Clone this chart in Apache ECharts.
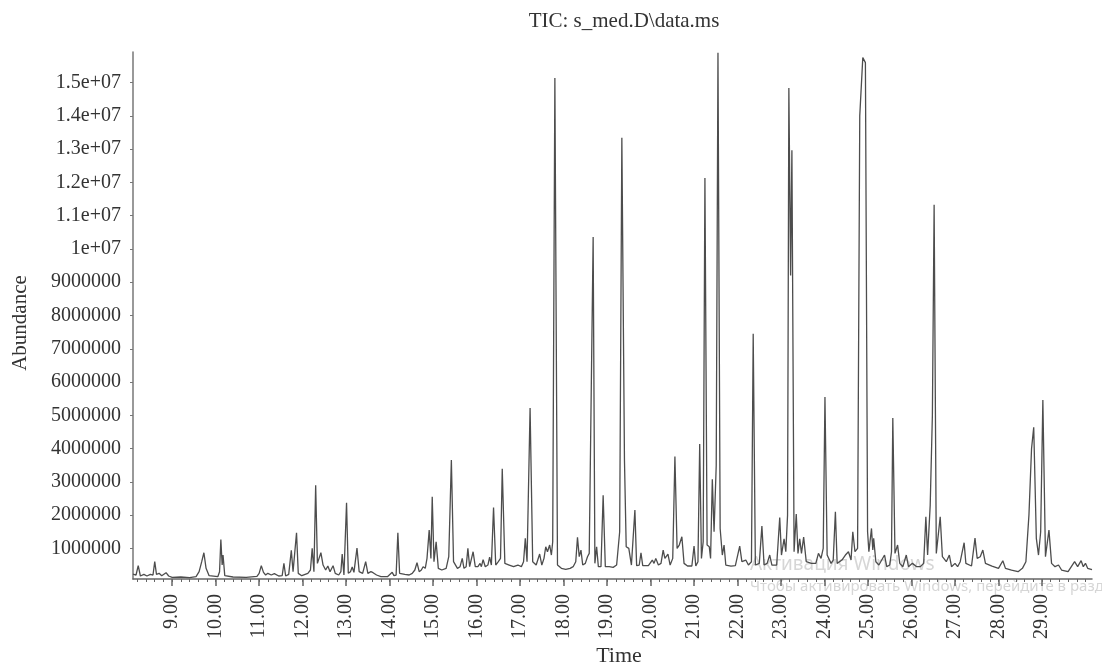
<!DOCTYPE html>
<html>
<head>
<meta charset="utf-8">
<script src="https://cdn.jsdelivr.net/npm/echarts@6/dist/echarts.min.js"></script>
<style>
  html, body { margin: 0; padding: 0; background: #fff; }
  #chart { width: 1102px; height: 666px; }
</style>
</head>
<body>
<div id="chart"></div>
<script>
// retention time (min) and abundance (millions)
const times = [
  8.10, 8.17, 8.22, 8.27, 8.35, 8.42, 8.50, 8.56, 8.60, 8.64, 8.70, 8.76, 8.86, 8.92,
  9.00, 9.20, 9.40, 9.55, 9.62, 9.68, 9.73, 9.78, 9.85,
  10.05, 10.09, 10.12, 10.15, 10.17, 10.21, 10.40, 10.70, 10.95,
  11.00, 11.05, 11.10, 11.15, 11.20, 11.28, 11.35, 11.45, 11.53, 11.57, 11.61, 11.68, 11.74, 11.78, 11.82, 11.86, 11.90, 11.98,
  12.12, 12.18, 12.22, 12.26, 12.30, 12.34, 12.38, 12.42, 12.47, 12.53, 12.58, 12.63, 12.70, 12.75, 12.83, 12.88, 12.91, 12.95,
  13.01, 13.05, 13.10, 13.14, 13.18, 13.25, 13.30, 13.38, 13.45, 13.50, 13.57, 13.62, 13.70, 13.80, 13.95,
  14.06, 14.10, 14.15, 14.19, 14.23, 14.35, 14.45, 14.52, 14.58, 14.63, 14.68, 14.73, 14.77, 14.82, 14.86, 14.91, 14.95, 14.98,
  15.02, 15.07, 15.12, 15.20, 15.30, 15.36, 15.42, 15.47, 15.56, 15.62, 15.67, 15.71, 15.76, 15.80, 15.84, 15.88, 15.92, 15.97,
  16.03, 16.08, 16.11, 16.15, 16.20, 16.26, 16.30, 16.34, 16.39, 16.44, 16.50, 16.55, 16.59, 16.65, 16.75, 16.85, 16.95,
  17.03, 17.08, 17.12, 17.16, 17.23, 17.29, 17.37, 17.45, 17.50, 17.55, 17.59, 17.63, 17.68, 17.72, 17.75, 17.80, 17.86, 17.95,
  18.05, 18.15, 18.22, 18.28, 18.32, 18.36, 18.40, 18.44, 18.50, 18.55, 18.59, 18.63, 18.68, 18.72, 18.76, 18.80, 18.86, 18.91, 18.96,
  19.05, 19.14, 19.22, 19.29, 19.34, 19.40, 19.44, 19.50, 19.56, 19.60, 19.64, 19.68, 19.74, 19.78, 19.82, 19.95,
  20.04, 20.08, 20.12, 20.18, 20.24, 20.29, 20.33, 20.40, 20.45, 20.51, 20.56, 20.61, 20.66, 20.72, 20.77, 20.85, 20.95,
  21.00, 21.04, 21.09, 21.13, 21.17, 21.21, 21.25, 21.30, 21.35, 21.38, 21.42, 21.46, 21.51, 21.55, 21.60, 21.65, 21.69, 21.73, 21.85, 21.95,
  22.05, 22.10, 22.19, 22.25, 22.32, 22.36, 22.41, 22.50, 22.56, 22.61, 22.68, 22.74, 22.79, 22.90, 22.97,
  23.01, 23.07, 23.11, 23.15, 23.18, 23.22, 23.25, 23.30, 23.35, 23.39, 23.43, 23.47, 23.52, 23.58, 23.70, 23.80, 23.86, 23.92, 23.97,
  24.01, 24.06, 24.15, 24.20, 24.25, 24.29, 24.40, 24.48, 24.55, 24.61, 24.65, 24.70, 24.76, 24.81, 24.88, 24.94, 24.99,
  25.02, 25.08, 25.11, 25.13, 25.18, 25.25, 25.38, 25.43, 25.50, 25.54, 25.57, 25.62, 25.68, 25.73, 25.80, 25.88, 25.93,
  26.02, 26.12, 26.20, 26.28, 26.33, 26.37, 26.43, 26.48, 26.52, 26.57, 26.66, 26.71, 26.80, 26.87, 26.92,
  27.00, 27.06, 27.12, 27.16, 27.21, 27.25, 27.38, 27.46, 27.51, 27.58, 27.64, 27.70, 27.85,
  28.00, 28.10, 28.16, 28.30, 28.45, 28.55, 28.63, 28.70, 28.76, 28.81, 28.87, 28.92, 28.97,
  29.02, 29.08, 29.16, 29.22, 29.30, 29.38, 29.45, 29.60, 29.75, 29.82, 29.90, 29.95,
  30.00, 30.05, 30.15
];
const abundance = [
  0.23, 0.20, 0.48, 0.17, 0.22, 0.17, 0.22, 0.20, 0.60, 0.22, 0.25, 0.18, 0.27, 0.17,
  0.13, 0.14, 0.12, 0.15, 0.30, 0.60, 0.87, 0.40, 0.18,
  0.15, 0.30, 1.27, 0.50, 0.80, 0.18, 0.14, 0.13, 0.16,
  0.25, 0.48, 0.28, 0.20, 0.25, 0.20, 0.24, 0.17, 0.18, 0.55, 0.17, 0.22, 0.94, 0.30, 0.35, 1.47, 0.25, 0.18,
  0.25, 0.35, 1.00, 0.30, 2.90, 0.55, 0.60, 0.87, 0.50, 0.35, 0.47, 0.30, 0.48, 0.25, 0.20, 0.30, 0.83, 0.20,
  2.37, 0.25, 0.30, 0.44, 0.28, 1.01, 0.30, 0.25, 0.60, 0.25, 0.30, 0.27, 0.20, 0.15, 0.15,
  0.28, 0.18, 0.20, 1.47, 0.25, 0.22, 0.20, 0.25, 0.35, 0.57, 0.30, 0.35, 0.45, 0.40, 0.70, 1.55, 0.70, 2.55,
  0.60, 1.20, 0.40, 0.35, 0.40, 0.75, 3.66, 0.60, 0.40, 0.45, 0.70, 0.40, 0.45, 1.00, 0.45, 0.45, 0.90, 0.45,
  0.45, 0.55, 0.45, 0.66, 0.45, 0.50, 0.74, 0.50, 2.23, 0.50, 0.60, 0.70, 3.39, 0.55, 0.50, 0.45, 0.50,
  0.45, 0.60, 1.30, 0.60, 5.22, 0.60, 0.50, 0.83, 0.50, 0.70, 1.05, 0.90, 1.10, 0.80, 1.20, 15.14, 0.50, 0.40,
  0.37, 0.40, 0.45, 0.60, 1.33, 0.75, 0.95, 0.50, 0.55, 0.75, 0.85, 0.80, 10.36, 0.55, 1.05, 0.45, 0.45, 2.60, 0.45,
  0.45, 0.43, 0.50, 1.50, 13.34, 3.66, 1.05, 1.00, 0.50, 0.55, 2.15, 0.48, 0.50, 0.87, 0.48, 0.48,
  0.65, 0.55, 0.70, 0.50, 0.55, 0.95, 0.70, 0.83, 0.50, 0.70, 3.76, 1.00, 1.10, 1.35, 0.55, 0.47, 0.47,
  1.07, 0.47, 0.60, 4.14, 0.70, 1.20, 12.13, 1.10, 1.05, 0.70, 3.08, 1.50, 3.50, 15.90, 1.60, 0.80, 1.10, 0.50, 0.47, 0.48,
  1.07, 0.60, 0.65, 0.50, 0.60, 7.45, 0.50, 0.55, 1.67, 0.50, 0.55, 0.80, 0.50, 0.50, 1.93,
  0.80, 1.29, 0.90, 2.00, 14.84, 9.20, 12.97, 0.90, 2.03, 0.85, 1.29, 0.85, 1.34, 0.60, 0.55, 0.55, 0.85, 0.70, 1.00,
  5.55, 0.80, 0.55, 0.65, 2.10, 0.55, 0.65, 0.80, 0.90, 0.65, 1.50, 0.90, 1.00, 14.00, 15.75, 15.60, 1.50,
  0.90, 1.60, 0.95, 1.30, 0.60, 0.50, 0.80, 0.45, 0.50, 0.90, 4.92, 0.85, 1.10, 0.55, 0.45, 0.80, 0.45,
  0.55, 0.45, 0.45, 0.55, 1.95, 0.80, 2.30, 5.00, 11.33, 0.85, 1.95, 0.75, 0.60, 0.80, 0.45,
  0.55, 0.45, 0.60, 0.60, 1.17, 0.55, 0.47, 1.31, 0.70, 0.75, 0.95, 0.55, 0.47,
  0.40, 0.63, 0.40, 0.35, 0.30, 0.40, 0.60, 2.00, 4.00, 4.64, 1.30, 0.80, 1.50,
  5.46, 0.75, 1.55, 0.55, 0.45, 0.50, 0.35, 0.30, 0.60, 0.45, 0.63, 0.45,
  0.55, 0.40, 0.36
];
const majorTicks = [9, 10, 11, 12, 13, 14, 15, 16, 17, 18, 19, 20, 21, 22, 23, 24, 25, 26, 27, 28, 29];
const yTicks = [1e6, 2e6, 3e6, 4e6, 5e6, 6e6, 7e6, 8e6, 9e6, 1e7, 1.1e7, 1.2e7, 1.3e7, 1.4e7, 1.5e7];

const minorTicks = [];
for (let i = 41; i <= 150; i++) minorTicks.push(i / 5);

const seriesData = times.map((t, i) => [t, abundance[i] * 1e6]);

const font = "'Liberation Serif', 'DejaVu Serif', serif";
const chart = echarts.init(document.getElementById('chart'));

const option = {
  backgroundColor: '#fff',
  animation: false,
  title: {
    text: 'TIC: s_med.D\\data.ms',
    left: 619,
    textAlign: 'center',
    top: 6,
    textStyle: { fontFamily: font, fontSize: 21, fontWeight: 'normal', color: '#333' }
  },
  grid: { left: 133, right: 10, top: 52, bottom: 87 },
  xAxis: [
    {
      type: 'value',
      min: 8.1,
      max: 30.15,
      splitLine: { show: false },
      axisLine: { lineStyle: { color: '#666', width: 1.5 } },
      axisTick: { customValues: majorTicks, length: 7, lineStyle: { color: '#666', width: 1.5 } },
      axisLabel: {
        customValues: majorTicks,
        rotate: 90,
        margin: 15,
        fontFamily: font,
        fontSize: 20,
        color: '#333',
        formatter: (v) => v.toFixed(2)
      }
    },
    {
      type: 'value',
      min: 8.1,
      max: 30.15,
      position: 'bottom',
      splitLine: { show: false },
      axisLine: { show: false },
      axisLabel: { show: false },
      axisTick: { customValues: minorTicks, length: 3, lineStyle: { color: '#666', width: 1 } }
    }
  ],
  yAxis: {
    type: 'value',
    min: 80000,
    max: 15920000,
    splitLine: { show: false },
    axisLine: { show: true, lineStyle: { color: '#777', width: 1.5 } },
    axisTick: { show: true, customValues: yTicks, length: 3, lineStyle: { color: '#777' } },
    axisLabel: {
      customValues: yTicks,
      margin: 12,
      fontFamily: font,
      fontSize: 20,
      color: '#333',
      formatter: (v) => (v >= 1e7 ? (v / 1e7) + 'e+07' : String(v))
    }
  },
  graphic: [
    {
      type: 'text',
      x: 20,
      y: 323,
      rotation: Math.PI / 2,
      silent: true,
      style: { text: 'Abundance', font: "21px " + font, fill: '#333', align: 'center', verticalAlign: 'middle' }
    },
    {
      type: 'text',
      x: 619,
      y: 656,
      silent: true,
      style: { text: 'Time', font: "22px " + font, fill: '#333', align: 'center', verticalAlign: 'middle' }
    },
    {
      type: 'text',
      x: 750,
      y: 565,
      silent: true,
      z: -1,
      style: { text: 'Активация Windows', font: "19px 'Noto Sans', 'DejaVu Sans', sans-serif", fill: '#d6d6d6', verticalAlign: 'middle' }
    },
    {
      type: 'text',
      x: 750,
      y: 587,
      silent: true,
      z: -1,
      style: { text: 'Чтобы активировать Windows, перейдите в раздел «Параметры».', font: "15px 'Noto Sans', 'DejaVu Sans', sans-serif", fill: '#d6d6d6', verticalAlign: 'middle' }
    }
  ],
  series: [
    {
      type: 'line',
      data: seriesData,
      showSymbol: false,
      symbol: 'none',
      clip: true,
      lineStyle: { color: '#4d4d4d', width: 1.3 },
      z: 3
    }
  ]
};

chart.setOption(option);
</script>
</body>
</html>
